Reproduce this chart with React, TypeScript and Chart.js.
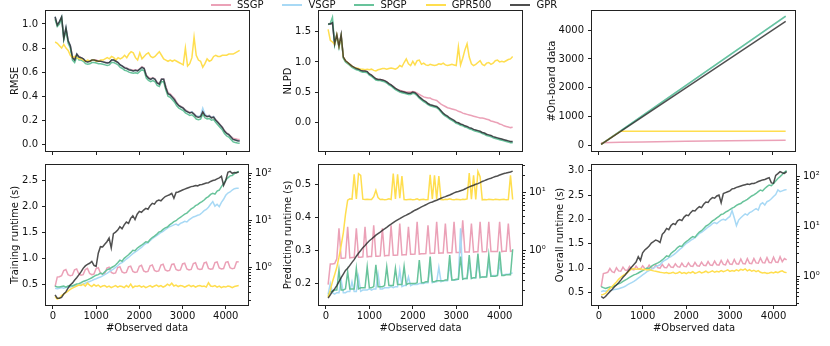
import React, { useEffect, useRef } from 'react';
import { Chart, registerables } from 'chart.js';

Chart.register(...registerables);

// ---------------- DATA ----------------
const SERIES_NAMES = ['SSGP', 'VSGP', 'SPGP', 'GPR500', 'GPR'];

const OBS = [
  50, 100, 150, 200, 250, 300, 350, 400, 450, 500,
  550, 600, 650, 700, 750, 800, 850, 900, 950, 1000,
  1050, 1100, 1150, 1200, 1250, 1300, 1350, 1400, 1450, 1500,
  1550, 1600, 1650, 1700, 1750, 1800, 1850, 1900, 1950, 2000,
  2050, 2100, 2150, 2200, 2250, 2300, 2350, 2400, 2450, 2500,
  2550, 2600, 2650, 2700, 2750, 2800, 2850, 2900, 2950, 3000,
  3050, 3100, 3150, 3200, 3250, 3300, 3350, 3400, 3450, 3500,
  3550, 3600, 3650, 3700, 3750, 3800, 3850, 3900, 3950, 4000,
  4050, 4100, 4150, 4200, 4250, 4300,
];

const X_TICKS = [0, 1000, 2000, 3000, 4000];
const RMSE_TICKS = [0, 0.2, 0.4, 0.6, 0.8, 1.0];
const NLPD_TICKS = [0, 0.5, 1.0, 1.5];
const ONBOARD_TICKS = [0, 1000, 2000, 3000, 4000];
const TRAIN_TICKS = [0.5, 1.0, 1.5, 2.0, 2.5];
const PRED_TICKS = [0.2, 0.3, 0.4, 0.5];
const OVERALL_TICKS = [0.5, 1.0, 1.5, 2.0, 2.5, 3.0];
const LOG_TICKS = [1, 10, 100];
const LOG_LABELS = ['10⁰', '10¹', '10²'];

// RMSE
const RMSE_SSGP = [
  1.05, 0.99, 1.02, 1.05, 0.88, 0.96, 0.86, 0.82, 0.73, 0.71,
  0.75, 0.73, 0.72, 0.71, 0.69, 0.69, 0.69, 0.70, 0.70, 0.70,
  0.69, 0.69, 0.69, 0.68, 0.68, 0.68, 0.70, 0.70, 0.69, 0.68,
  0.66, 0.65, 0.64, 0.635, 0.625, 0.62, 0.615, 0.62, 0.615, 0.63,
  0.645, 0.635, 0.575, 0.555, 0.545, 0.555, 0.545, 0.515, 0.505, 0.545,
  0.545, 0.48, 0.43, 0.42, 0.40, 0.38, 0.35, 0.325, 0.315, 0.305,
  0.285, 0.275, 0.265, 0.27, 0.255, 0.235, 0.23, 0.235, 0.27, 0.245,
  0.235, 0.24, 0.225, 0.23, 0.205, 0.185, 0.165, 0.145, 0.115, 0.095,
  0.085, 0.065, 0.05, 0.045, 0.042, 0.04,
];
const RMSE_VSGP = [
  1.06, 0.99, 1.02, 1.06, 0.88, 0.97, 0.86, 0.82, 0.72, 0.70,
  0.75, 0.72, 0.72, 0.71, 0.69, 0.685, 0.69, 0.70, 0.70, 0.69,
  0.69, 0.69, 0.685, 0.68, 0.675, 0.68, 0.70, 0.70, 0.69, 0.68,
  0.66, 0.65, 0.635, 0.63, 0.62, 0.615, 0.61, 0.615, 0.61, 0.625,
  0.64, 0.63, 0.57, 0.55, 0.54, 0.55, 0.54, 0.51, 0.50, 0.54,
  0.54, 0.47, 0.42, 0.41, 0.39, 0.37, 0.34, 0.32, 0.31, 0.30,
  0.28, 0.27, 0.26, 0.27, 0.25, 0.235, 0.23, 0.24, 0.30, 0.25,
  0.23, 0.24, 0.22, 0.23, 0.20, 0.18, 0.16, 0.14, 0.11, 0.09,
  0.08, 0.06, 0.04, 0.035, 0.03, 0.03,
];
const RMSE_SPGP = [
  1.04, 0.98, 1.00, 1.05, 0.87, 0.95, 0.84, 0.80, 0.70, 0.68,
  0.73, 0.70, 0.70, 0.69, 0.67, 0.665, 0.67, 0.68, 0.68, 0.675,
  0.67, 0.67, 0.665, 0.66, 0.655, 0.66, 0.68, 0.68, 0.67, 0.66,
  0.64, 0.63, 0.615, 0.61, 0.60, 0.595, 0.59, 0.595, 0.59, 0.605,
  0.62, 0.61, 0.55, 0.53, 0.52, 0.53, 0.52, 0.49, 0.48, 0.52,
  0.52, 0.45, 0.40, 0.39, 0.37, 0.35, 0.32, 0.30, 0.29, 0.28,
  0.26, 0.25, 0.24, 0.245, 0.23, 0.21, 0.205, 0.21, 0.25, 0.22,
  0.21, 0.215, 0.20, 0.205, 0.18, 0.16, 0.14, 0.12, 0.09, 0.07,
  0.06, 0.04, 0.02, 0.015, 0.01, 0.008,
];
const RMSE_GPR500 = [
  0.85, 0.84, 0.82, 0.80, 0.83, 0.80, 0.78, 0.74, 0.72, 0.73,
  0.72, 0.71, 0.71, 0.70, 0.69, 0.70, 0.69, 0.70, 0.70, 0.69,
  0.69, 0.70, 0.70, 0.71, 0.72, 0.71, 0.73, 0.72, 0.70, 0.72,
  0.71, 0.72, 0.74, 0.72, 0.75, 0.77, 0.76, 0.72, 0.70, 0.76,
  0.71, 0.73, 0.75, 0.76, 0.73, 0.72, 0.73, 0.75, 0.77, 0.74,
  0.71, 0.70, 0.69, 0.70, 0.69, 0.70, 0.69, 0.68, 0.67, 0.66,
  0.80, 0.65, 0.67, 0.72, 0.89, 0.74, 0.70, 0.69, 0.64, 0.67,
  0.71, 0.69, 0.70, 0.73, 0.74, 0.73, 0.73, 0.74, 0.74, 0.74,
  0.75, 0.75, 0.75, 0.76, 0.77, 0.78,
];
const RMSE_GPR = [
  1.06, 0.99, 1.02, 1.06, 0.88, 0.97, 0.86, 0.82, 0.72, 0.70,
  0.75, 0.725, 0.72, 0.71, 0.69, 0.685, 0.69, 0.70, 0.70, 0.695,
  0.69, 0.69, 0.685, 0.68, 0.675, 0.68, 0.70, 0.70, 0.69, 0.68,
  0.66, 0.65, 0.635, 0.63, 0.62, 0.615, 0.61, 0.615, 0.61, 0.625,
  0.64, 0.63, 0.57, 0.55, 0.54, 0.55, 0.54, 0.51, 0.50, 0.54,
  0.54, 0.47, 0.42, 0.41, 0.39, 0.37, 0.34, 0.32, 0.31, 0.30,
  0.28, 0.27, 0.26, 0.265, 0.25, 0.23, 0.225, 0.23, 0.27, 0.24,
  0.23, 0.235, 0.22, 0.225, 0.20, 0.18, 0.16, 0.14, 0.11, 0.09,
  0.08, 0.06, 0.04, 0.035, 0.03, 0.028,
];

// NLPD
const NLPD_SSGP = [
  1.63, 1.63, 1.64, 1.30, 1.45, 1.26, 1.45, 1.08, 1.02, 0.99,
  0.96, 0.93, 0.91, 0.89, 0.88, 0.86, 0.85, 0.85, 0.84, 0.80,
  0.78, 0.75, 0.72, 0.71, 0.71, 0.70, 0.69, 0.67, 0.64, 0.62,
  0.59, 0.56, 0.54, 0.53, 0.52, 0.51, 0.50, 0.50, 0.50, 0.51,
  0.50, 0.48, 0.46, 0.44, 0.42, 0.41, 0.40, 0.40, 0.38, 0.37,
  0.36, 0.33, 0.30, 0.28, 0.26, 0.24, 0.23, 0.22, 0.21, 0.20,
  0.18, 0.17, 0.15, 0.14, 0.13, 0.12, 0.11, 0.10, 0.09, 0.08,
  0.07, 0.07, 0.06, 0.05, 0.04, 0.02, 0.01, 0.00, -0.01, -0.03,
  -0.04, -0.06, -0.07, -0.08, -0.09, -0.085,
];
const NLPD_VSGP = [
  1.62, 1.63, 1.66, 1.29, 1.45, 1.25, 1.44, 1.07, 1.01, 0.98,
  0.95, 0.92, 0.90, 0.88, 0.87, 0.85, 0.84, 0.84, 0.83, 0.79,
  0.77, 0.74, 0.71, 0.70, 0.70, 0.69, 0.68, 0.66, 0.63, 0.61,
  0.58, 0.55, 0.53, 0.51, 0.50, 0.49, 0.48, 0.47, 0.47, 0.49,
  0.48, 0.45, 0.41, 0.38, 0.35, 0.33, 0.30, 0.28, 0.27, 0.26,
  0.25, 0.22, 0.18, 0.14, 0.11, 0.09, 0.06, 0.04, 0.02, -0.01,
  -0.02, -0.04, -0.05, -0.07, -0.08, -0.10, -0.11, -0.13, -0.14, -0.15,
  -0.16, -0.18, -0.19, -0.21, -0.22, -0.23, -0.25, -0.26, -0.27, -0.28,
  -0.29, -0.30, -0.31, -0.32, -0.33, -0.33,
];
const NLPD_SPGP = [
  1.62, 1.64, 1.74, 1.28, 1.43, 1.24, 1.43, 1.06, 1.00, 0.97,
  0.94, 0.91, 0.89, 0.87, 0.86, 0.84, 0.83, 0.83, 0.82, 0.78,
  0.76, 0.73, 0.70, 0.69, 0.69, 0.68, 0.67, 0.65, 0.62, 0.60,
  0.57, 0.54, 0.52, 0.50, 0.49, 0.48, 0.47, 0.46, 0.46, 0.48,
  0.47, 0.44, 0.40, 0.37, 0.34, 0.32, 0.29, 0.27, 0.26, 0.25,
  0.24, 0.21, 0.17, 0.13, 0.10, 0.08, 0.05, 0.03, 0.01, -0.02,
  -0.03, -0.05, -0.06, -0.08, -0.09, -0.11, -0.12, -0.14, -0.15, -0.16,
  -0.17, -0.19, -0.20, -0.22, -0.23, -0.24, -0.26, -0.27, -0.28, -0.29,
  -0.30, -0.31, -0.32, -0.33, -0.34, -0.34,
];
const NLPD_GPR500 = [
  1.54, 1.36, 1.33, 1.29, 1.45, 1.26, 1.43, 1.08, 1.02, 0.99,
  0.96, 0.93, 0.91, 0.90, 0.89, 0.88, 0.88, 0.87, 0.88, 0.87,
  0.88, 0.86, 0.85, 0.87, 0.88, 0.89, 0.89, 0.88, 0.89, 0.90,
  0.89, 0.88, 0.90, 0.94, 0.92, 0.99, 1.05, 0.97, 0.94, 1.01,
  0.95, 1.02, 1.03, 0.96, 0.98, 0.95, 0.94, 0.96, 0.95, 0.94,
  0.95, 0.97, 0.96, 0.98, 0.95, 0.94, 0.95, 0.96, 0.95, 0.94,
  1.25, 0.95, 1.06, 1.20, 1.30, 1.08, 0.97, 0.94, 0.96, 0.99,
  1.02, 0.96, 0.94, 0.98, 0.99, 0.96, 0.98, 1.02, 1.03, 1.00,
  1.01, 1.00, 1.02, 1.04, 1.05, 1.09,
];
const NLPD_GPR = [
  1.63, 1.63, 1.65, 1.30, 1.45, 1.26, 1.45, 1.08, 1.02, 0.99,
  0.96, 0.93, 0.91, 0.89, 0.88, 0.86, 0.85, 0.85, 0.84, 0.80,
  0.78, 0.75, 0.72, 0.71, 0.71, 0.70, 0.69, 0.67, 0.64, 0.62,
  0.59, 0.56, 0.54, 0.52, 0.51, 0.50, 0.49, 0.48, 0.48, 0.50,
  0.49, 0.46, 0.42, 0.39, 0.36, 0.34, 0.31, 0.29, 0.28, 0.27,
  0.26, 0.23, 0.19, 0.15, 0.12, 0.10, 0.07, 0.05, 0.03, 0.00,
  -0.01, -0.03, -0.04, -0.06, -0.07, -0.09, -0.10, -0.12, -0.13, -0.14,
  -0.15, -0.17, -0.18, -0.20, -0.21, -0.22, -0.24, -0.25, -0.26, -0.27,
  -0.28, -0.29, -0.30, -0.31, -0.32, -0.32,
];

// On-board data
const ONBOARD_SSGP_X = [50, 500, 1000, 2000, 3000, 4300];
const ONBOARD_SSGP = [100, 118, 132, 152, 168, 185];
const ONBOARD_LINE_X = [50, 4300];
const ONBOARD_VSGP = [45, 4470];
const ONBOARD_SPGP = [45, 4480];
const ONBOARD_GPR500_X = [50, 500, 4300];
const ONBOARD_GPR500 = [50, 500, 500];
const ONBOARD_GPR = [50, 4300];

// Training runtime (s)
const TRAIN_SSGP = [
  0.39, 0.62, 0.63, 0.66, 0.85, 0.90, 0.70, 0.66, 0.68, 0.88,
  0.92, 0.72, 0.68, 0.70, 0.90, 0.95, 0.74, 0.70, 0.72, 0.94,
  0.98, 0.76, 0.72, 0.74, 0.96, 1.00, 0.78, 0.74, 0.76, 0.99,
  1.03, 0.80, 0.76, 0.78, 1.02, 1.06, 0.82, 0.78, 0.80, 1.05,
  1.10, 0.84, 0.80, 0.82, 1.08, 1.12, 0.86, 0.82, 0.84, 1.12,
  1.16, 0.88, 0.84, 0.86, 1.15, 1.18, 0.90, 0.86, 0.88, 1.18,
  1.22, 0.92, 0.88, 0.90, 1.20, 1.25, 0.94, 0.90, 0.92, 1.24,
  1.28, 0.95, 0.91, 0.93, 1.26, 1.30, 0.97, 0.92, 0.94, 1.28,
  1.32, 0.98, 0.93, 0.96, 1.30, 1.32,
];
const TRAIN_VSGP = [
  0.36, 0.35, 0.36, 0.37, 0.36, 0.37, 0.38, 0.38, 0.39, 0.40,
  0.41, 0.42, 0.42, 0.44, 0.46, 0.48, 0.50, 0.52, 0.55, 0.57,
  0.60, 0.62, 0.66, 0.70, 0.74, 0.80, 0.86, 0.92, 1.00, 1.08,
  1.20, 1.26, 1.36, 1.50, 1.62, 1.78, 1.95, 2.10, 2.25, 2.45,
  2.65, 2.95, 3.2, 3.3, 3.7, 4.1, 4.4, 4.7, 5.1, 5.5,
  5.8, 6.3, 6.8, 7.3, 7.6, 8.0, 8.3, 7.8, 8.6, 9.0,
  9.5, 9.2, 10.2, 11.0, 11.8, 12.2, 12.8, 13.2, 14.5, 16.0,
  17.0, 19.0, 22.0, 25.0, 20.0, 22.0, 19.5, 24.0, 28.0, 34.0,
  38.0, 40.0, 44.0, 47.0, 48.0, 48.0,
];
const TRAIN_SPGP = [
  0.40, 0.38, 0.38, 0.39, 0.40, 0.38, 0.40, 0.41, 0.40, 0.42,
  0.44, 0.45, 0.47, 0.50, 0.52, 0.54, 0.57, 0.60, 0.64, 0.68,
  0.70, 0.75, 0.72, 0.80, 0.88, 0.92, 0.98, 1.04, 1.12, 1.25,
  1.42, 1.35, 1.55, 1.70, 1.85, 2.05, 2.30, 2.25, 2.55, 2.75,
  2.95, 3.2, 3.5, 3.4, 3.9, 4.3, 4.6, 5.0, 5.6, 5.8,
  6.4, 6.9, 7.2, 8.0, 8.6, 9.4, 9.8, 10.8, 11.6, 12.5,
  13.5, 14.2, 15.8, 17.5, 18.5, 20.5, 21.5, 23.5, 25.0, 27.0,
  30.0, 32.0, 35.5, 37.5, 36.0, 42.0, 44.0, 52.0, 60.0, 72.0,
  80.0, 88.0, 90.0, 98.0, 104.0, 110.0,
];
const TRAIN_GPR500 = [
  0.24, 0.21, 0.22, 0.25, 0.27, 0.29, 0.31, 0.34, 0.36, 0.38,
  0.40, 0.42, 0.41, 0.44, 0.40, 0.46, 0.42, 0.39, 0.43, 0.40,
  0.42, 0.38, 0.40, 0.41, 0.38, 0.40, 0.37, 0.39, 0.41, 0.38,
  0.40, 0.39, 0.37, 0.41, 0.38, 0.44, 0.37, 0.40, 0.39, 0.41,
  0.38, 0.40, 0.37, 0.39, 0.41, 0.38, 0.40, 0.42, 0.39, 0.41,
  0.38, 0.40, 0.44, 0.41, 0.46, 0.40, 0.42, 0.39, 0.41, 0.40,
  0.38, 0.40, 0.42, 0.39, 0.41, 0.38, 0.40, 0.41, 0.39, 0.40,
  0.38, 0.47, 0.40, 0.39, 0.41, 0.38, 0.40, 0.37, 0.39, 0.38,
  0.40, 0.39, 0.37, 0.39, 0.40, 0.41,
];
const TRAIN_GPR = [
  0.26, 0.22, 0.22, 0.23, 0.27, 0.30, 0.36, 0.42, 0.46, 0.53,
  0.60, 0.69, 0.80, 0.95, 1.07, 1.15, 1.22, 1.34, 1.10, 1.05,
  2.0, 2.75, 2.7, 3.1, 3.5, 4.2, 2.6, 5.2, 5.6, 6.2,
  7.3, 6.6, 8.0, 9.2, 8.6, 11.0, 12.5, 10.4, 13.5, 15.5,
  14.8, 16.5, 18.0, 17.2, 20.5, 23.0, 22.0, 25.5, 27.0, 26.0,
  29.0, 32.0, 33.5, 35.0, 37.5, 29.5, 39.0, 40.0, 42.0, 44.0,
  46.0, 48.0, 50.0, 52.0, 53.0, 55.0, 54.0, 57.0, 58.0, 60.0,
  62.0, 63.0, 67.0, 70.0, 72.0, 76.0, 80.0, 86.0, 55.0, 70.0,
  105.0, 110.0, 100.0, 104.0, 103.0, 106.0,
];

// Predicting runtime (s)
const PRED_SSGP = [
  0.25, 0.57, 0.57, 0.58, 0.70, 2.4, 0.72, 0.72, 0.73, 2.55,
  0.73, 0.74, 0.74, 2.4, 0.75, 0.75, 0.76, 2.55, 0.76, 0.77,
  0.77, 2.7, 0.78, 0.78, 0.79, 2.4, 0.79, 0.80, 0.80, 2.7,
  0.81, 0.81, 0.82, 2.9, 0.82, 0.83, 0.83, 2.55, 0.84, 0.84,
  0.85, 3.1, 0.85, 0.86, 0.86, 0.87, 2.7, 0.87, 0.88, 0.88,
  3.1, 0.88, 0.89, 0.89, 2.9, 0.90, 0.90, 0.90, 3.1, 0.91,
  0.91, 0.91, 3.3, 0.92, 0.92, 0.92, 2.9, 0.92, 0.93, 0.93,
  3.1, 0.93, 0.93, 0.94, 3.1, 0.94, 0.94, 0.94, 0.94, 3.1,
  0.94, 0.95, 0.95, 2.9, 0.95, 0.96,
];
const PRED_VSGP = [
  0.17, 0.26, 0.18, 0.17, 0.18, 0.18, 0.30, 0.18, 0.18, 0.19,
  0.19, 0.28, 0.19, 0.19, 0.34, 0.19, 0.20, 0.20, 0.20, 0.21,
  0.20, 0.21, 0.21, 0.38, 0.21, 0.21, 0.22, 0.22, 0.22, 0.23,
  0.22, 0.23, 0.23, 0.45, 0.23, 0.24, 0.24, 0.34, 0.24, 0.25,
  0.25, 0.25, 0.26, 0.26, 0.26, 0.27, 0.27, 0.55, 0.27, 0.28,
  0.28, 0.50, 0.28, 0.29, 0.29, 0.29, 0.55, 0.30, 0.30, 0.30,
  0.31, 2.4, 0.31, 0.32, 0.32, 0.60, 0.32, 0.33, 0.33, 0.65,
  0.34, 0.34, 0.34, 0.35, 0.60, 0.35, 0.36, 0.36, 0.36, 0.55,
  0.37, 0.37, 0.38, 0.38, 0.39, 0.40,
];
const PRED_SPGP = [
  0.16, 0.19, 0.19, 0.20, 0.20, 0.45, 0.20, 0.20, 0.21, 0.42,
  0.21, 0.21, 0.21, 0.48, 0.21, 0.22, 0.22, 0.22, 0.51, 0.22,
  0.22, 0.23, 0.55, 0.23, 0.23, 0.23, 0.24, 0.51, 0.24, 0.24,
  0.24, 0.48, 0.25, 0.25, 0.25, 0.52, 0.25, 0.26, 0.26, 0.26,
  0.26, 0.27, 0.67, 0.27, 0.27, 0.28, 0.28, 0.77, 0.28, 0.28,
  0.29, 0.29, 0.29, 0.29, 0.30, 0.30, 0.82, 0.30, 0.30, 0.31,
  0.31, 0.77, 0.31, 0.32, 0.32, 0.82, 0.32, 0.33, 0.33, 0.87,
  0.33, 0.34, 0.34, 0.34, 0.82, 0.35, 0.35, 0.35, 0.36, 0.94,
  0.36, 0.36, 0.37, 0.37, 0.37, 1.03,
];
const PRED_GPR500 = [
  0.15, 0.20, 0.28, 0.37, 0.50, 0.75, 1.2, 2.0, 4.2, 7.4,
  7.8, 7.7, 21.0, 7.8, 21.5, 20.0, 7.7, 7.6, 7.7, 7.6,
  7.6, 8.5, 11.0, 8.2, 7.6, 7.7, 7.5, 7.6, 7.8, 7.6,
  21.5, 7.8, 21.0, 8.0, 19.5, 7.6, 7.5, 7.6, 7.7, 7.5,
  7.6, 7.8, 7.5, 7.6, 7.7, 7.5, 7.6, 20.5, 7.8, 20.0,
  7.7, 19.5, 7.6, 7.5, 7.7, 7.6, 7.8, 7.6, 7.5, 7.7,
  7.6, 7.5, 7.7, 7.6, 7.8, 22.0, 7.7, 20.0, 7.6, 23.5,
  19.0, 7.5, 7.6, 7.5, 7.7, 7.6, 7.5, 7.7, 7.6, 7.5,
  7.6, 7.7, 7.5, 7.6, 20.0, 7.6,
];
const PRED_GPR = [
  0.145, 0.165, 0.19, 0.21, 0.24, 0.28, 0.33, 0.38, 0.44, 0.48,
  0.54, 0.61, 0.68, 0.78, 0.88, 0.98, 1.10, 1.20, 1.33, 1.45,
  1.56, 1.68, 1.82, 1.93, 2.05, 2.20, 2.33, 2.48, 2.66, 2.82,
  3.0, 3.18, 3.35, 3.52, 3.72, 3.90, 4.05, 4.25, 4.45, 4.70,
  4.95, 5.15, 5.40, 5.65, 5.90, 6.15, 6.45, 6.70, 6.90, 7.15,
  7.40, 7.70, 8.00, 8.30, 8.55, 8.85, 9.10, 9.50, 9.90, 10.3,
  10.5, 10.8, 11.1, 11.6, 12.1, 12.6, 13.1, 13.5, 14.0, 14.4,
  15.0, 15.7, 16.2, 16.8, 17.4, 17.9, 18.5, 19.1, 19.6, 20.3,
  21.0, 21.6, 22.0, 22.5, 23.0, 23.8,
];

// Overall runtime (s)
const OVERALL_SSGP = [
  0.62, 1.15, 1.18, 1.22, 1.45, 1.25, 1.20, 1.50, 1.30, 1.28,
  1.55, 1.35, 1.32, 1.60, 1.40, 1.36, 1.62, 1.42, 1.40, 1.65,
  1.45, 1.42, 1.70, 1.48, 1.45, 1.72, 1.50, 1.48, 1.75, 1.52,
  1.50, 1.78, 1.55, 1.52, 1.80, 1.58, 1.55, 1.85, 1.60, 1.58,
  1.88, 1.62, 1.60, 1.92, 1.65, 1.62, 1.95, 1.68, 1.65, 2.0,
  1.70, 1.68, 2.05, 1.72, 1.70, 2.1, 1.75, 1.72, 2.15, 1.78,
  1.75, 2.2, 1.80, 1.78, 2.25, 1.82, 1.80, 2.3, 1.85, 1.82,
  2.3, 1.88, 1.85, 2.35, 1.90, 1.88, 2.4, 1.92, 1.90, 2.45,
  1.95, 1.92, 2.5, 1.98, 2.3, 2.15,
];
const OVERALL_VSGP = [
  0.50, 0.52, 0.51, 0.53, 0.52, 0.54, 0.55, 0.56, 0.57, 0.59,
  0.61, 0.64, 0.68, 0.72, 0.76, 0.80, 0.86, 0.93, 1.00, 1.08,
  1.16, 1.26, 1.32, 1.40, 1.50, 1.58, 1.65, 1.72, 1.95, 2.1,
  2.2, 2.4, 2.5, 2.7, 2.9, 3.2, 3.5, 3.8, 4.2, 4.6,
  4.9, 5.3, 5.6, 6.0, 6.6, 7.3, 7.7, 8.3, 9.0, 9.8,
  10.5, 11.5, 12.0, 11.5, 12.5, 13.5, 14.0, 13.5, 14.8, 16.0,
  21.0, 15.0, 10.5, 13.5, 15.0, 16.5, 18.0, 17.0, 19.0, 20.0,
  21.5, 23.0, 21.5, 28.0, 30.0, 27.0, 31.5, 33.0, 36.0, 40.0,
  44.0, 54.0, 50.0, 52.0, 54.0, 55.0,
];
const OVERALL_SPGP = [
  0.63, 0.60, 0.58, 0.60, 0.62, 0.61, 0.65, 0.68, 0.72, 0.75,
  0.80, 0.85, 0.90, 0.96, 1.02, 1.08, 1.12, 1.18, 1.25, 1.32,
  1.40, 1.48, 1.45, 1.60, 1.72, 1.80, 1.88, 2.0, 2.15, 2.35,
  2.6, 2.5, 2.9, 3.15, 3.4, 3.8, 4.1, 4.0, 4.6, 5.0,
  5.4, 5.9, 6.3, 6.1, 7.0, 7.8, 8.3, 9.2, 10.2, 10.8,
  11.8, 13.0, 13.8, 15.0, 16.0, 17.5, 18.0, 19.5, 20.5, 22.0,
  23.5, 24.5, 26.5, 28.0, 29.0, 31.5, 33.0, 35.0, 38.0, 41.0,
  43.0, 46.0, 50.0, 54.0, 52.0, 58.0, 63.0, 68.0, 66.0, 73.0,
  82.0, 92.0, 100.0, 110.0, 122.0, 132.0,
];
const OVERALL_GPR500 = [
  0.43, 0.44, 0.46, 0.52, 0.58, 0.63, 0.70, 0.78, 0.88, 0.97,
  1.05, 1.12, 1.20, 1.32, 1.42, 1.45, 1.40, 1.42, 1.45, 1.38,
  1.40, 1.36, 1.38, 1.34, 1.30, 1.28, 1.25, 1.22, 1.20, 1.18,
  1.20, 1.16, 1.18, 1.22, 1.15, 1.18, 1.24, 1.16, 1.20, 1.15,
  1.22, 1.18, 1.25, 1.16, 1.20, 1.26, 1.18, 1.22, 1.28, 1.20,
  1.24, 1.30, 1.22, 1.28, 1.24, 1.32, 1.25, 1.30, 1.36, 1.27,
  1.32, 1.28, 1.36, 1.30, 1.40, 1.34, 1.42, 1.30, 1.38, 1.28,
  1.34, 1.26, 1.32, 1.22, 1.18, 1.20, 1.16, 1.18, 1.22, 1.18,
  1.24, 1.20, 1.26, 1.30, 1.22, 1.20,
];
const OVERALL_GPR = [
  0.40, 0.37, 0.40, 0.45, 0.50, 0.55, 0.62, 0.68, 0.75, 0.85,
  0.97, 1.08, 1.22, 1.38, 1.55, 1.75, 1.95, 2.5, 2.1, 3.0,
  3.4, 3.7, 4.1, 4.7, 5.0, 5.4, 5.2, 4.8, 7.0, 7.8,
  9.2, 8.7, 10.5, 11.5, 11.0, 13.0, 13.8, 13.2, 15.5, 17.0,
  16.5, 19.0, 21.0, 20.5, 23.0, 25.0, 24.0, 28.0, 31.0, 30.5,
  35.0, 38.0, 37.0, 41.0, 43.0, 30.0, 46.0, 48.0, 50.0, 52.0,
  57.0, 58.0, 61.0, 63.0, 65.0, 67.0, 69.0, 71.0, 70.0, 73.0,
  73.0, 76.0, 80.0, 83.0, 86.0, 88.0, 92.0, 95.0, 75.0, 74.0,
  106.0, 115.0, 126.0, 120.0, 116.0, 126.0,
];

// ---------------- STYLE ----------------
const FONT = "'DejaVu Sans', 'Liberation Sans', sans-serif";
const TEXT = '#111111';
const AXIS = '#222222';
const COLORS: Record<string, string> = {
  SSGP: '#eba1b7',
  VSGP: '#a8d9f5',
  SPGP: '#68c39b',
  GPR500: '#ffde4f',
  GPR: 'rgba(40,40,40,0.82)',
};
const ORDER: Record<string, number> = { SSGP: 4, VSGP: 3, SPGP: 2, GPR500: 1, GPR: 0 };
const X_MIN = -160;
const X_MAX = 4515;

type Series = { name: string; xs: number[]; ys: number[] };
type PanelSpec = {
  area: { l: number; t: number; r: number; b: number };
  canvasTop: number;
  yTitle: string;
  titlePad: number;
  yMin: number;
  yMax: number;
  yTicks: number[];
  yDecimals: number;
  log?: { min: number; max: number };
  series: Series[];
};

const S = (name: string, ys: number[], xs: number[] = OBS): Series => ({ name, xs, ys });

const PANELS: PanelSpec[] = [
  {
    area: { l: 46, t: 11, r: 249, b: 151 }, canvasTop: 0, yTitle: 'RMSE', titlePad: 9,
    yMin: -0.056, yMax: 1.108, yTicks: RMSE_TICKS, yDecimals: 1,
    series: [S('SSGP', RMSE_SSGP), S('VSGP', RMSE_VSGP), S('SPGP', RMSE_SPGP), S('GPR500', RMSE_GPR500), S('GPR', RMSE_GPR)],
  },
  {
    area: { l: 319, t: 11, r: 522, b: 151 }, canvasTop: 0, yTitle: 'NLPD', titlePad: 9,
    yMin: -0.478, yMax: 1.845, yTicks: NLPD_TICKS, yDecimals: 1,
    series: [S('SSGP', NLPD_SSGP), S('VSGP', NLPD_VSGP), S('SPGP', NLPD_SPGP), S('GPR500', NLPD_GPR500), S('GPR', NLPD_GPR)],
  },
  {
    area: { l: 592, t: 11, r: 795, b: 151 }, canvasTop: 0, yTitle: '#On-board data', titlePad: 0,
    yMin: -183, yMax: 4657, yTicks: ONBOARD_TICKS, yDecimals: 0,
    series: [
      S('SSGP', ONBOARD_SSGP, ONBOARD_SSGP_X),
      S('VSGP', ONBOARD_VSGP, ONBOARD_LINE_X),
      S('SPGP', ONBOARD_SPGP, ONBOARD_LINE_X),
      S('GPR500', ONBOARD_GPR500, ONBOARD_GPR500_X),
      S('GPR', ONBOARD_GPR, ONBOARD_LINE_X),
    ],
  },
  {
    area: { l: 46, t: 165, r: 248, b: 305 }, canvasTop: 155, yTitle: 'Training runtime (s)', titlePad: 9,
    yMin: 0.11, yMax: 2.8, yTicks: TRAIN_TICKS, yDecimals: 1, log: { min: 0.158, max: 150 },
    series: [S('SSGP', TRAIN_SSGP), S('VSGP', TRAIN_VSGP), S('SPGP', TRAIN_SPGP), S('GPR500', TRAIN_GPR500), S('GPR', TRAIN_GPR)],
  },
  {
    area: { l: 319, t: 165, r: 522, b: 305 }, canvasTop: 155, yTitle: 'Predicting runtime (s)', titlePad: 9,
    yMin: 0.134, yMax: 0.5585, yTicks: PRED_TICKS, yDecimals: 1, log: { min: 0.11, max: 30.4 },
    series: [S('SSGP', PRED_SSGP), S('VSGP', PRED_VSGP), S('SPGP', PRED_SPGP), S('GPR500', PRED_GPR500), S('GPR', PRED_GPR)],
  },
  {
    area: { l: 592, t: 165, r: 796, b: 305 }, canvasTop: 155, yTitle: 'Overall runtime (s)', titlePad: 8,
    yMin: 0.248, yMax: 3.117, yTicks: OVERALL_TICKS, yDecimals: 1, log: { min: 0.27, max: 171 },
    series: [S('SSGP', OVERALL_SSGP), S('VSGP', OVERALL_VSGP), S('SPGP', OVERALL_SPGP), S('GPR500', OVERALL_GPR500), S('GPR', OVERALL_GPR)],
  },
];

const LEFT_W = 46;
const RIGHT_LOG_W = 36;
const RIGHT_PAD = 6;

const mplAxes = {
  id: 'mplAxes',
  afterDraw(chart: any) {
    const { ctx, chartArea: a } = chart;
    ctx.save();
    ctx.strokeStyle = AXIS;
    ctx.lineWidth = 1;
    const l = Math.round(a.left) - 0.5;
    const r = Math.round(a.right) + 0.5;
    const t = Math.round(a.top) - 0.5;
    const b = Math.round(a.bottom) + 0.5;
    ctx.strokeRect(l, t, r - l, b - t);
    const yr = chart.scales.yr;
    if (yr) {
      ctx.beginPath();
      const e0 = Math.floor(Math.log10(yr.min));
      const e1 = Math.ceil(Math.log10(yr.max));
      for (let e = e0; e <= e1; e++) {
        for (let k = 2; k <= 9; k++) {
          const v = k * Math.pow(10, e);
          if (v < yr.min || v > yr.max) continue;
          const y = Math.round(yr.getPixelForValue(v)) + 0.5;
          ctx.moveTo(r, y);
          ctx.lineTo(r + 2.5, y);
        }
      }
      ctx.stroke();
    }
    ctx.restore();
  },
};

function geometry(p: PanelSpec) {
  const isBottom = !!p.log;
  const left = p.area.l - LEFT_W;
  const rightExtra = isBottom ? RIGHT_LOG_W : RIGHT_PAD;
  const width = LEFT_W + (p.area.r - p.area.l) + rightExtra;
  const top = p.canvasTop;
  const xAxisH = isBottom ? 346 - p.area.b : 14;
  const height = p.area.b - top + xAxisH;
  return { isBottom, left, top, width, height, xAxisH };
}

function makeConfig(p: PanelSpec): any {
  const g = geometry(p);
  const font = { family: FONT, size: 10 };
  const tickGrid = { drawOnChartArea: false, drawTicks: true, tickLength: 4, tickColor: AXIS, tickWidth: 1 };
  const zeroPad = (s: any) => { s.paddingTop = 0; s.paddingBottom = 0; s.paddingLeft = 0; s.paddingRight = 0; };
  const scales: any = {
    x: {
      type: 'linear', position: 'bottom', bounds: 'data', min: X_MIN, max: X_MAX,
      afterBuildTicks: (s: any) => { s.ticks = X_TICKS.map((v) => ({ value: v })); },
      afterFit: (s: any) => { s.height = g.xAxisH; zeroPad(s); },
      grid: tickGrid,
      border: { display: false },
      ticks: { display: g.isBottom, autoSkip: false, maxRotation: 0, minRotation: 0, padding: 1, color: TEXT, font, callback: (v: any) => String(v) },
      title: { display: g.isBottom, text: '#Observed data', color: TEXT, font, padding: { top: 0, bottom: 12 } },
    },
    y: {
      type: 'linear', position: 'left', bounds: 'data', min: p.yMin, max: p.yMax,
      afterBuildTicks: (s: any) => { s.ticks = p.yTicks.map((v) => ({ value: v })); },
      afterFit: (s: any) => { s.width = LEFT_W; zeroPad(s); },
      grid: tickGrid,
      border: { display: false },
      ticks: { autoSkip: false, padding: 4, color: TEXT, font, callback: (v: any) => Number(v).toFixed(p.yDecimals) },
      title: { display: true, text: p.yTitle, color: TEXT, font, padding: { top: p.titlePad, bottom: 0 } },
    },
  };
  if (p.log) {
    const lg = p.log;
    scales.yr = {
      type: 'logarithmic', position: 'right', bounds: 'data', min: lg.min, max: lg.max,
      afterBuildTicks: (s: any) => { s.ticks = LOG_TICKS.filter((v) => v >= lg.min && v <= lg.max).map((v) => ({ value: v, major: true })); },
      afterFit: (s: any) => { s.width = RIGHT_LOG_W; zeroPad(s); },
      grid: tickGrid,
      border: { display: false },
      ticks: {
        autoSkip: false, padding: 3, color: TEXT, font,
        callback: (v: any) => { const i = LOG_TICKS.indexOf(Number(v)); return i >= 0 ? LOG_LABELS[i] : ''; },
      },
    };
  }
  const datasets = p.series.map((s) => ({
    label: s.name,
    data: s.ys.map((y, i) => ({ x: s.xs[i], y })),
    borderColor: COLORS[s.name],
    backgroundColor: COLORS[s.name],
    borderWidth: 1.5,
    pointRadius: 0,
    tension: 0,
    fill: false,
    order: ORDER[s.name],
    xAxisID: 'x',
    yAxisID: p.log ? 'yr' : 'y',
  }));
  return {
    type: 'line',
    data: { datasets },
    options: {
      responsive: false,
      maintainAspectRatio: false,
      devicePixelRatio: 1,
      animation: false,
      events: [],
      layout: { padding: { left: 0, right: g.isBottom ? 0 : RIGHT_PAD, top: p.area.t - p.canvasTop, bottom: 0 } },
      plugins: { legend: { display: false }, tooltip: { enabled: false }, title: { display: false } },
      scales,
    },
    plugins: [mplAxes],
  };
}

function Panel({ spec }: { spec: PanelSpec }) {
  const ref = useRef<HTMLCanvasElement>(null);
  const g = geometry(spec);
  useEffect(() => {
    if (!ref.current) return;
    const chart = new Chart(ref.current, makeConfig(spec));
    return () => chart.destroy();
  }, [spec]);
  return (
    <canvas
      ref={ref}
      width={g.width}
      height={g.height}
      style={{ position: 'absolute', left: g.left, top: g.top, width: g.width, height: g.height }}
    />
  );
}

function Legend() {
  return (
    <div
      style={{
        position: 'absolute', left: 211, top: 0, height: 10, display: 'flex', alignItems: 'center',
        fontFamily: FONT, fontSize: 10, lineHeight: '10px', color: TEXT, whiteSpace: 'nowrap',
      }}
    >
      {SERIES_NAMES.map((n) => (
        <div key={n} style={{ display: 'flex', alignItems: 'center', marginRight: 19 }}>
          <span style={{ display: 'inline-block', width: 20, height: 2, background: COLORS[n], marginRight: 6, marginTop: -1 }} />
          <span>{n}</span>
        </div>
      ))}
    </div>
  );
}

export default function App() {
  Chart.defaults.font.family = FONT;
  return (
    <div style={{ position: 'absolute', left: 0, top: 0, width: 830, height: 346, background: '#ffffff', overflow: 'hidden' }}>
      {PANELS.map((p, i) => (
        <Panel key={i} spec={p} />
      ))}
      <Legend />
    </div>
  );
}
